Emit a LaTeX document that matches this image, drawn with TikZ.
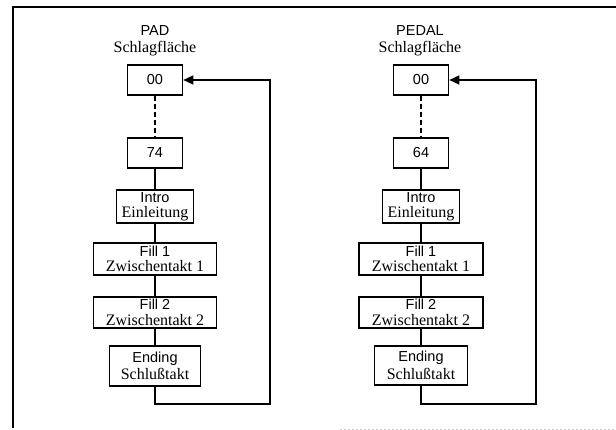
\documentclass[tikz,border=0pt]{standalone}
\usepackage{fontspec}
\setmainfont{Liberation Serif}
\setsansfont{Liberation Sans}
\usetikzlibrary{arrows.meta}
\newcommand{\sfl}[1]{{\sffamily\fontsize{14.5}{15.5}\selectfont #1}}
\newcommand{\rml}[1]{{\rmfamily\fontsize{16}{15.5}\selectfont #1}}
\tikzset{
  box/.style={draw, line width=1.6pt, inner sep=0pt, align=center, font=\fontsize{15}{15.5}\selectfont},
  title/.style={inner sep=0pt, align=center},
  flow/.style={line width=2pt},
  ret/.style={line width=1.5pt, -{Triangle[length=10pt,width=9pt]}},
}
\begin{document}
\begin{tikzpicture}[x=1pt,y=-1pt]
\useasboundingbox (0,0) rectangle (616,430);
% frame (scan border)
\draw[line width=1.5pt] (12,7) -- (616,7);
\draw[line width=2pt] (13,7) -- (13,428);
\draw[gray!40, line width=0.8pt, dash pattern=on 2pt off 2pt] (340,429) -- (616,429);

% ---------- PAD ----------
\node[title] (padT) at (155,31) {\sfl{PAD}};
\node[title] (padS) at (155,48.5) {\rml{Schlagfläche}};
\node[box, minimum width=55pt, minimum height=30pt] (p00) at (155,80) {\sfl{00}};
\node[box, minimum width=55pt, minimum height=30pt] (p74) at (155,153) {\sfl{74}};
\node[box, minimum width=77pt, minimum height=33pt] (pin) at (155,206.5) {\sfl{Intro}\\\rml{Einleitung}};
\node[box, minimum width=123pt, minimum height=32pt] (pf1) at (155,259) {\sfl{Fill 1}\\\rml{Zwischentakt 1}};
\node[box, minimum width=123pt, minimum height=31pt] (pf2) at (155,312.5) {\sfl{Fill 2}\\\rml{Zwischentakt 2}};
\node[box, minimum width=91pt, minimum height=40pt] (pen) at (155,366) {\sfl{Ending}\\[2pt]\rml{Schlußtakt}};
\draw[flow, dash pattern=on 5pt off 3pt] (p00.south) -- (p74.north);
\draw[flow] (p74.south) -- (pin.north);
\draw[flow] (pin.south) -- (pf1.north);
\draw[flow] (pf1.south) -- (pf2.north);
\draw[flow] (pf2.south) -- (pen.north);
\coordinate (pr1) at (155,404);
\coordinate (pr2) at (270,404);
\coordinate (pr3) at (270,80);
\draw[ret] (pen.south) -- (pr1) -- (pr2) -- (pr3) -- (p00.east);

% ---------- PEDAL ----------
\node[title] (pedT) at (420,31) {\sfl{PEDAL}};
\node[title] (pedS) at (420,48.5) {\rml{Schlagfläche}};
\node[box, minimum width=55pt, minimum height=30pt] (e00) at (421,80) {\sfl{00}};
\node[box, minimum width=55pt, minimum height=30pt] (e64) at (421,153) {\sfl{64}};
\node[box, minimum width=77pt, minimum height=33pt] (ein) at (421,206.5) {\sfl{Intro}\\\rml{Einleitung}};
\node[box, minimum width=124pt, minimum height=32pt] (ef1) at (421,259) {\sfl{Fill 1}\\\rml{Zwischentakt 1}};
\node[box, minimum width=124pt, minimum height=31pt] (ef2) at (421,312.5) {\sfl{Fill 2}\\\rml{Zwischentakt 2}};
\node[box, minimum width=93pt, minimum height=39pt] (een) at (421,365.5) {\sfl{Ending}\\[2pt]\rml{Schlußtakt}};
\draw[flow, dash pattern=on 5pt off 3pt] (e00.south) -- (e64.north);
\draw[flow] (e64.south) -- (ein.north);
\draw[flow] (ein.south) -- (ef1.north);
\draw[flow] (ef1.south) -- (ef2.north);
\draw[flow] (ef2.south) -- (een.north);
\coordinate (er1) at (421,404);
\coordinate (er2) at (536,404);
\coordinate (er3) at (536,80);
\draw[ret] (een.south) -- (er1) -- (er2) -- (er3) -- (e00.east);
\end{tikzpicture}
\end{document}
